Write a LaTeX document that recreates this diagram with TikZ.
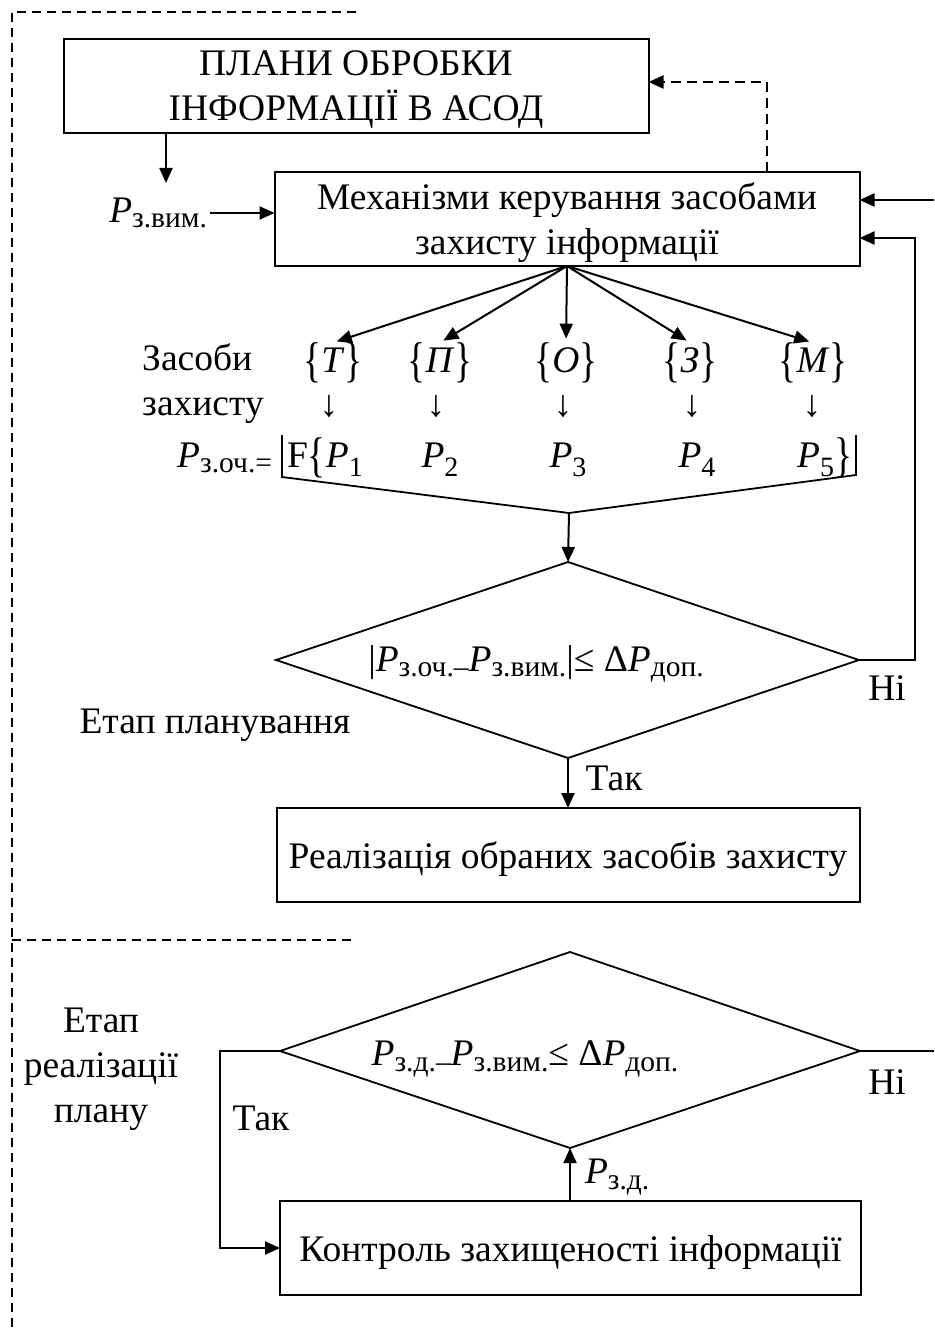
\documentclass[tikz,border=0pt]{standalone}
\usepackage{fontspec}
\setmainfont{Liberation Serif}
\usetikzlibrary{arrows.meta}
% smaller, lowered index text
\newcommand\subs[1]{\raisebox{-0.15em}{\fontsize{29.5}{29.5}\selectfont #1}}
\newcommand\Pv[1]{\textit{P}\subs{#1}}
% numbered estimates, with the index set lower
\newcommand\Pn[1]{\textit{P}\raisebox{-0.25em}{\fontsize{28}{28}\selectfont #1}}
% tall braces
\newcommand\lbr{\raisebox{-0.12em}{\scalebox{1}[1.3]{\{}}}
\newcommand\rbr{\raisebox{-0.12em}{\scalebox{1}[1.3]{\}}}}

\begin{document}
\begin{tikzpicture}[x=1pt,y=-1pt,
  every node/.style={font=\fontsize{37.5}{45}\selectfont, inner sep=0pt, outer sep=0pt},
  box/.style={draw, line width=2pt, align=center, text depth=0pt},
  arr/.style={line width=2pt, -{Triangle[length=15pt,width=13pt]}},
  plain/.style={line width=1.8pt},
  fbline/.style={line width=2pt, dash pattern=on 10pt off 6pt, -{Triangle[length=15pt,width=13pt]}},
  frame/.style={line width=1.2pt, dash pattern=on 9pt off 6pt},
  lbl/.style={align=center}
]
\useasboundingbox (0,0) rectangle (934,1332);

% stage frame
\draw[frame] (356,12) -- (12,12) -- (12,1332);
\draw[frame] (12,940) -- (356,940);

% blocks
\node[box, minimum width=585pt, minimum height=94pt] (plan) at (356,86) {ПЛАНИ ОБРОБКИ\\ІНФОРМАЦІЇ В АСОД};
\node[box, minimum width=585pt, minimum height=94pt] (mech) at (567,219) {Механізми керування засобами\\захисту інформації};
\node[box, minimum width=583pt, minimum height=94pt] (real) at (568,855) {Реалізація обраних засобів захисту};
\node[box, minimum width=581pt, minimum height=94pt] (ctrl) at (570.5,1248) {Контроль захищеності інформації};

% decision 1
\coordinate (d1t) at (568,562);
\coordinate (d1l) at (276,660);
\coordinate (d1r) at (859,660);
\coordinate (d1b) at (568,758);
\draw[plain] (d1t) -- (d1r) -- (d1b) -- (d1l) -- cycle;
\node (c1) at (536,664) {|\Pv{з.оч.–}\Pv{з.вим.}|≤ Δ\Pv{доп.}};

% decision 2
\coordinate (d2t) at (570,952);
\coordinate (d2l) at (280,1051);
\coordinate (d2r) at (860,1051);
\coordinate (d2b) at (570,1148);
\draw[plain] (d2t) -- (d2r) -- (d2b) -- (d2l) -- cycle;
\node (c2) at (525,1059) {\Pv{з.д.–}\Pv{з.вим.}≤ Δ\Pv{доп.}};

% input to the mechanisms
\coordinate (pdown) at (166,183);
\draw[arr] (plan.south -| pdown) -- (pdown);
\node[anchor=east] (pvim) at (207,213) {\Pv{з.вим.}};
\draw[arr] ([xshift=3pt]pvim.east) -- (mech.west |- pvim.east);

% feedback to the plans
\coordinate (fbk) at (767,82);
\draw[fbline] (mech.north -| fbk) -- (fbk) -- (fbk -| plan.east);

% inputs from the right
\coordinate (rin) at (934,200);
\draw[arr] (rin) -- (rin -| mech.east);
\coordinate (loop) at (915,238);
\draw[arr] (d1r) -| (loop) -- (loop -| mech.east);
\node (no1) at (887,688) {Ні};

% means of protection
\node[lbl, align=left] (means) at (203,384) {Засоби\\захисту};
\node[anchor=base] (sT) at (333,372) {\lbr\textit{T}\rbr};
\node[anchor=base] (sP) at (440,372) {\lbr\textit{П}\rbr};
\node[anchor=base] (sO) at (566,372) {\lbr\textit{O}\rbr};
\node[anchor=base] (sZ) at (690,372) {\lbr\textit{З}\rbr};
\node[anchor=base] (sM) at (813,372) {\lbr\textit{M}\rbr};
\foreach \s in {sT,sP,sO,sZ,sM}
  \draw[arr, shorten >=4pt] (mech.south) -- (\s.north);

\foreach \n/\x in {aT/329,aP/436,aO/563,aZ/692,aM/812}
  \node (\n) at (\x,407) {↓};

% estimate of protection level
\node[anchor=base east] (pest) at (272,467) {\Pv{з.оч.=}};
\node[anchor=base west] (p1) at (287,467) {F\lbr\Pn{1}};
\node[anchor=base] (p2) at (440,467) {\Pn{2}};
\node[anchor=base] (p3) at (568,467) {\Pn{3}};
\node[anchor=base] (p4) at (697,467) {\Pn{4}};
\node[anchor=base east] (p5) at (852,467) {\Pn{5}\rbr};

\coordinate (vx) at (569,513);
\draw[plain] (282,435) -- (282,477) -- (vx) -- (856,475) -- (856,435);
\draw[arr] (vx) -- (d1t);

\node (plst) at (215,725) {Етап планування};

% to realisation
\draw[arr] (d1b) -- (d1b |- real.north);
\node (yes1) at (614,778) {Так};

% realisation stage
\node[lbl] (rst) at (101,1069) {Етап\\реалізації\\плану};
\coordinate (rout) at (934,1051);
\draw[plain] (d2r) -- (rout);
\node (no2) at (887,1082) {Ні};
\coordinate (lft) at (220,1051);
\draw[arr] (d2l) -- (lft) |- (ctrl.west);
\node (yes2) at (261,1118) {Так};
\draw[arr] (ctrl.north -| d2b) -- (d2b);
\node[anchor=west] (pzd) at (585,1177) {\Pv{з.д.}};

\end{tikzpicture}
\end{document}
